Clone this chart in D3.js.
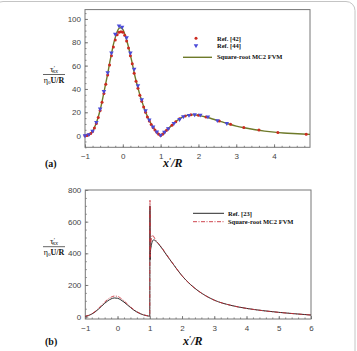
<!DOCTYPE html>
<html>
<head>
<meta charset="utf-8">
<script src="https://cdn.jsdelivr.net/npm/d3@7"></script>
<style>
body { margin: 0; background: #fff; }
svg text { font-family: "Liberation Sans", Arial, sans-serif; }
.tick text { fill: #444; font-size: 8px; }
.tick line { stroke: #666; stroke-width: 0.8; }
.lbl { font-family: "Liberation Serif", "Times New Roman", serif !important; font-weight: bold; fill: #111; }
</style>
</head>
<body>
<div id="chart"></div>
<script>
// panel (a) data
var mc2X = [-1, -0.95, -0.9, -0.85, -0.8, -0.75, -0.7, -0.65, -0.6, -0.55, -0.5, -0.45, -0.4, -0.35, -0.3, -0.25, -0.2, -0.15, -0.1, -0.05, 0, 0.05, 0.1, 0.15, 0.2, 0.25, 0.3, 0.35, 0.4, 0.45, 0.5, 0.55, 0.6, 0.65, 0.7, 0.75, 0.8, 0.85, 0.9, 0.95, 1.0, 1.05, 1.1, 1.2, 1.3, 1.4, 1.5, 1.6, 1.7, 1.8, 1.9, 2.0, 2.2, 2.4, 2.6, 2.8, 3.0, 3.25, 3.5, 3.75, 4.0, 4.25, 4.5, 4.75, 4.95];
var mc2Y = [0, 0.3, 1, 2, 3.7, 7, 11, 16, 22, 29, 37, 45, 53, 62, 70, 78, 84, 89, 92, 92.5, 91, 87, 82, 76, 69, 62, 54, 47, 41, 35, 30, 25, 20.5, 16.5, 13, 10, 7.3, 5, 3, 1.3, 0.2, 1.3, 3, 6, 9, 12, 14.5, 16.3, 17.4, 17.8, 17.8, 17.4, 16, 14, 12, 10, 8.2, 6.5, 5, 3.9, 3, 2.3, 1.8, 1.4, 1.1];

var ref42X = [-1, -0.95, -0.9, -0.85, -0.8, -0.75, -0.7, -0.65, -0.6, -0.55, -0.5, -0.45, -0.4, -0.35, -0.3, -0.25, -0.2, -0.15, -0.1, -0.05, 0, 0.05, 0.1, 0.15, 0.2, 0.25, 0.3, 0.35, 0.4, 0.45, 0.5, 0.55, 0.6, 0.65, 0.7, 0.75, 0.8, 0.85, 0.9, 0.95, 1.0, 1.05, 1.1, 1.15, 1.2, 1.3, 1.4, 1.5, 1.65, 1.8, 2.0, 2.2, 2.55, 2.85, 3.2, 3.6, 4.1, 4.85];
var ref42Y = [0, 0.2, 0.8, 1.8, 3.5, 6.5, 10.5, 15.5, 21.5, 28.5, 36, 44, 52, 60.5, 68.5, 76, 82, 86.5, 88.5, 89, 88.5, 86, 81, 75, 68.5, 61.5, 53.5, 46.5, 40.5, 34.5, 29.5, 24.5, 20, 16, 12.5, 9.5, 7, 4.8, 2.8, 1.2, 0.2, 1.2, 2.8, 4.4, 6, 9, 12, 14.5, 16.8, 17.8, 17.5, 16, 12.5, 9.8, 7, 4.8, 2.6, 1.2];

var ref44X = [-1, -0.9, -0.8, -0.7, -0.6, -0.5, -0.4, -0.3, -0.2, -0.1, -0.02, 0.1, 0.2, 0.3, 0.4, 0.5, 0.6, 0.7, 0.8, 0.9, 1.0, 1.1, 1.2, 1.35, 1.5, 1.6, 1.75, 1.9, 2.05, 2.25, 2.5, 2.75];
var ref44Y = [0, 1, 4, 11.5, 23, 38, 54, 71, 87, 94, 93, 84, 71, 57, 43, 31, 21.5, 13.5, 7.5, 3.3, 0.5, 3, 6, 10.5, 14, 16.3, 17.5, 18, 17.7, 16.2, 13, 10.5];

var aXTicks = [-1, 0, 1, 2, 3, 4];
var aYTicks = [0, 20, 40, 60, 80, 100];

// panel (b) data
var ref23X = [-1, -0.9, -0.8, -0.7, -0.6, -0.5, -0.4, -0.3, -0.2, -0.1, 0, 0.1, 0.2, 0.3, 0.4, 0.5, 0.6, 0.7, 0.8, 0.9, 1.0, 1.005, 1.012, 1.02, 1.04, 1.07, 1.12, 1.2, 1.3, 1.4, 1.5, 1.75, 2.0, 2.25, 2.5, 2.75, 3.0, 3.5, 4.0, 4.5, 5.0, 5.5, 6.0];
var ref23Y = [2, 7, 16, 29, 46, 65, 84, 100, 112, 118, 116, 106, 92, 75, 58, 42, 29, 19, 11, 6, 3, 700, 360, 410, 440, 470, 485, 475, 452, 425, 395, 325, 258, 205, 163, 130, 104, 72, 52, 38, 27, 18, 10];

var mc2bX = [-1, -0.9, -0.8, -0.7, -0.6, -0.5, -0.4, -0.3, -0.2, -0.1, 0, 0.1, 0.2, 0.3, 0.4, 0.5, 0.6, 0.7, 0.8, 0.9, 1.0, 1.006, 1.014, 1.025, 1.05, 1.08, 1.1, 1.15, 1.2, 1.3, 1.4, 1.5, 1.75, 2.0, 2.25, 2.5, 2.75, 3.0, 3.5, 4.0, 4.5, 5.0, 5.5, 6.0];
var mc2bY = [2, 8, 18, 32, 50, 71, 92, 110, 123, 130, 128, 116, 100, 81, 62, 45, 31, 20, 12, 7, 3, 735, 380, 450, 490, 515, 512, 495, 478, 455, 428, 398, 326, 258, 205, 163, 130, 104, 72, 52, 38, 27, 18, 10];

var bXTicks = [-1, 0, 1, 2, 3, 4, 5, 6];
var bYTicks = [0, 200, 400, 600, 800];

var width = 357, height = 351;

var svg = d3.select("#chart").append("svg")
	.attr("width", width)
	.attr("height", height);

// outer rounded border
svg.append("rect")
	.attr("x", -6).attr("y", 1.5)
	.attr("width", width + 4).attr("height", height + 20)
	.attr("rx", 9)
	.attr("fill", "none")
	.attr("stroke", "#c4c4c4")
	.attr("stroke-width", 1);

function zip(xs, ys) {
	return xs.map(function(x, i) { return { x: x, y: ys[i] }; });
}

function drawFrame(g, x, y, xTicks, yTicks, xMinor, yMinor) {
	var x0 = x.range()[0], x1 = x.range()[1];
	var y0 = y.range()[0], y1 = y.range()[1];

	var xAxis = g.append("g")
		.attr("transform", "translate(0," + y0 + ")")
		.call(d3.axisBottom(x).tickValues(xTicks).tickSize(-3).tickPadding(6).tickFormat(d3.format("d")));
	xAxis.select(".domain").remove();

	g.append("g")
		.attr("transform", "translate(0," + y0 + ")")
		.call(d3.axisBottom(x).tickValues(xMinor).tickSize(-1.5).tickFormat(""))
		.select(".domain").remove();

	var yAxis = g.append("g")
		.attr("transform", "translate(" + x0 + ",0)")
		.call(d3.axisLeft(y).tickValues(yTicks).tickSize(-3).tickPadding(4).tickFormat(d3.format("d")));
	yAxis.select(".domain").remove();

	g.append("g")
		.attr("transform", "translate(" + x0 + ",0)")
		.call(d3.axisLeft(y).tickValues(yMinor).tickSize(-1.5).tickFormat(""))
		.select(".domain").remove();

	g.append("rect")
		.attr("x", x0).attr("y", y1)
		.attr("width", x1 - x0).attr("height", y0 - y1)
		.attr("fill", "none")
		.attr("stroke", "#777")
		.attr("stroke-width", 1);
}

function yLabel(g, cx, lineY) {
	var num = g.append("text").attr("class", "lbl")
		.attr("x", cx).attr("y", lineY - 3)
		.attr("text-anchor", "middle")
		.style("font-size", "9px").style("font-weight", "normal");
	num.append("tspan").text("τ");
	num.append("tspan").text("′").attr("dy", -2).style("font-size", "6px");
	num.append("tspan").text("xx").attr("dy", 3.5).attr("dx", -2.5).style("font-size", "6px").style("font-style", "italic");

	g.append("line")
		.attr("x1", cx - 11).attr("x2", cx + 11)
		.attr("y1", lineY).attr("y2", lineY)
		.attr("stroke", "#222").attr("stroke-width", 0.7);

	var den = g.append("text").attr("class", "lbl")
		.attr("x", cx).attr("y", lineY + 8)
		.attr("text-anchor", "middle")
		.style("font-size", "8px");
	den.append("tspan").text("η").style("font-weight", "normal");
	den.append("tspan").text("0").attr("dy", 1.5).style("font-size", "5px").style("font-weight", "normal");
	den.append("tspan").text("U/R").attr("dy", -1.5);
}

function xLabel(g, x, y, tag, tx) {
	g.append("text").attr("class", "lbl")
		.attr("x", tx).attr("y", y)
		.style("font-size", "10px")
		.text(tag);
	var t = g.append("text").attr("class", "lbl")
		.attr("x", x).attr("y", y)
		.style("font-size", "12px").style("font-style", "italic");
	t.append("tspan").text("x");
	t.append("tspan").text("′").style("font-size", "8px").attr("dy", -3);
	t.append("tspan").text("/R").attr("dy", 3);
}

function range(a, b, s) {
	var out = [];
	for (var v = a; v <= b + 1e-9; v += s) out.push(+v.toFixed(3));
	return out;
}

// ---------- panel (a)
var ga = svg.append("g");
var xa = d3.scaleLinear().domain([-1, 4.95]).range([85, 310]);
var ya = d3.scaleLinear().domain([-10, 108]).range([147.3, 9.6]);

drawFrame(ga, xa, ya, aXTicks, aYTicks, range(-1, 4.8, 0.2), range(-10, 105, 5));

var lineA = d3.line().x(function(d) { return xa(d.x); }).y(function(d) { return ya(d.y); }).curve(d3.curveMonotoneX);

ga.append("path")
	.attr("d", lineA(zip(mc2X, mc2Y)))
	.attr("fill", "none")
	.attr("stroke", "#6e7a2a")
	.attr("stroke-width", 1.4);

ga.selectAll(".r42").data(zip(ref42X, ref42Y)).enter().append("circle")
	.attr("class", "r42")
	.attr("cx", function(d) { return xa(d.x); })
	.attr("cy", function(d) { return ya(d.y); })
	.attr("r", 1.5)
	.attr("fill", "#cc2a20");

var tri = d3.symbol().type(d3.symbolTriangle).size(9);
ga.selectAll(".r44").data(zip(ref44X, ref44Y)).enter().append("path")
	.attr("class", "r44")
	.attr("d", tri)
	.attr("transform", function(d) { return "translate(" + xa(d.x) + "," + ya(d.y) + ") rotate(180)"; })
	.attr("fill", "#4a4ad8");

// legend (a)
ga.append("circle").attr("cx", 196).attr("cy", 38.3).attr("r", 1.5).attr("fill", "#cc2a20");
ga.append("path").attr("d", tri).attr("transform", "translate(196,45.5) rotate(180)").attr("fill", "#4a4ad8");
ga.append("line").attr("x1", 183).attr("x2", 212).attr("y1", 57.3).attr("y2", 57.3)
	.attr("stroke", "#6e7a2a").attr("stroke-width", 1.4);
[["Ref. [42]", 40.5], ["Ref. [44]", 48], ["Square-root MC2 FVM", 59]].forEach(function(d) {
	ga.append("text").attr("class", "lbl")
		.attr("x", 217).attr("y", d[1])
		.style("font-size", "6.5px")
		.text(d[0]);
});

yLabel(ga, 54, 74.5);
xLabel(ga, 163, 167, "(a)", 45);

// ---------- panel (b)
var gb = svg.append("g");
var xb = d3.scaleLinear().domain([-1, 6]).range([85.3, 311]);
var yb = d3.scaleLinear().domain([-15, 800]).range([319, 190]);

drawFrame(gb, xb, yb, bXTicks, bYTicks, range(-1, 6, 0.2), range(0, 800, 50));

var lineB = d3.line().x(function(d) { return xb(d.x); }).y(function(d) { return yb(d.y); }).curve(d3.curveMonotoneX);

gb.append("path")
	.attr("d", lineB(zip(ref23X, ref23Y)))
	.attr("fill", "none")
	.attr("stroke", "#2a2a2a")
	.attr("stroke-width", 1);

gb.append("path")
	.attr("d", lineB(zip(mc2bX, mc2bY)))
	.attr("fill", "none")
	.attr("stroke", "#c8303a")
	.attr("stroke-width", 0.9)
	.attr("stroke-dasharray", "4,1.5,1,1.5");

// legend (b)
gb.append("line").attr("x1", 193).attr("x2", 224).attr("y1", 213.3).attr("y2", 213.3)
	.attr("stroke", "#2a2a2a").attr("stroke-width", 1);
gb.append("line").attr("x1", 193).attr("x2", 224).attr("y1", 221.7).attr("y2", 221.7)
	.attr("stroke", "#c8303a").attr("stroke-width", 0.9).attr("stroke-dasharray", "4,1.5,1,1.5");
[["Ref. [23]", 215.5], ["Square-root MC2 FVM", 224]].forEach(function(d) {
	gb.append("text").attr("class", "lbl")
		.attr("x", 228).attr("y", d[1])
		.style("font-size", "6.5px")
		.text(d[0]);
});

yLabel(gb, 54, 246.7);
xLabel(gb, 183, 345, "(b)", 45);
</script>
</body>
</html>
